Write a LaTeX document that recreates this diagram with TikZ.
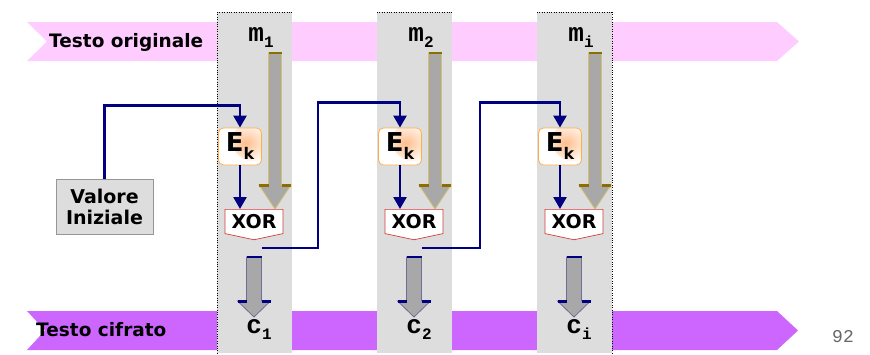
\documentclass[tikz,border=0pt]{standalone}
\usepackage{fontspec}
\setmainfont{DejaVu Sans}
\newfontfamily\monofont{Liberation Mono}
\usetikzlibrary{arrows.meta, shapes.symbols, calc}
\definecolor{bandpink}{RGB}{255,204,255}
\definecolor{bandviolet}{RGB}{204,102,255}
\definecolor{colgray}{RGB}{221,221,221}
\definecolor{mynavy}{RGB}{0,0,128}
\definecolor{mygold}{RGB}{214,190,110}
\definecolor{mydarkgold}{RGB}{140,110,0}
\definecolor{myslate}{RGB}{110,110,150}
\definecolor{arrowgray}{RGB}{168,168,168}
\definecolor{xorred}{RGB}{210,60,60}
\definecolor{ekorange}{RGB}{255,175,70}
\definecolor{ekfill}{RGB}{255,190,140}
\definecolor{valborder}{RGB}{150,150,150}
\tikzset{
  bandtext/.style={font=\fontsize{18.5}{18.5}\selectfont\bfseries, inner sep=0pt, anchor=west},
  mlabel/.style={font=\fontsize{26}{26}\monofont\bfseries, inner sep=0pt},
  ekbox/.style={rectangle, draw=ekorange, fill=white, rounded corners=5pt,
    line width=0.8pt, minimum width=43pt, minimum height=37pt, inner sep=0pt,
    font=\fontsize{26}{26}\selectfont\bfseries,
    path picture={\shade[inner color=ekfill, outer color=white]
      ([xshift=-9pt,yshift=-13pt]path picture bounding box.north east) circle (20pt);}},
  xorbox/.style={signal, signal to=south, signal pointer angle=156,
    draw=xorred, fill=white, line width=0.7pt, minimum width=58pt,
    minimum height=29pt, inner sep=0pt, font=\fontsize{19}{19}\selectfont\bfseries},
  valbox/.style={rectangle, draw=valborder, fill=colgray, line width=0.7pt,
    minimum width=97pt, minimum height=55pt, align=center, inner sep=0pt,
    font=\fontsize{19}{21}\selectfont\bfseries},
  flow/.style={draw=mynavy, line width=2.5pt, -{Triangle[width=13pt,length=12pt]}},
  pagenum/.style={font=\fontsize{18}{18}\monofont, text=black!60, inner sep=0pt}
}
% block arrow: cx, ytop, yhead, ytip, half shaft, half head, outline, bars
\newcommand{\blockarrow}[8]{%
  \filldraw[fill=arrowgray, draw=#7, line width=0.8pt]
    (#1-#5,#2) -- (#1+#5,#2) -- (#1+#5,#3) -- (#1+#6,#3) -- (#1,#4)
    -- (#1-#6,#3) -- (#1-#5,#3) -- cycle;
  \draw[#8, line width=2.5pt] (#1-#5,#2) -- (#1+#5,#2);
  \draw[#8, line width=3pt] (#1-#6,#3) -- (#1-#5,#3) (#1+#5,#3) -- (#1+#6,#3);
}
\begin{document}
\begin{tikzpicture}[x=1pt, y=-1pt]
  \useasboundingbox (0,0) rectangle (870,354);
  % bands
  \fill[bandpink] (27,22) -- (777,22) -- (799,41.5) -- (777,61) -- (27,61) -- (47,41.5) -- cycle;
  \fill[bandviolet] (27,311) -- (777,311) -- (798,330.5) -- (777,350) -- (27,350) -- (45,330.5) -- cycle;
  \node[bandtext] (orig) at (49,42) {Testo originale};
  \node[bandtext] (cifr) at (36,330) {Testo cifrato};
  % columns
  \foreach \i/\cx/\sub in {1/217/1, 2/377/2, 3/537/i} {
    \fill[colgray] (\cx,12) rectangle (\cx+75,353);
    \draw[dotted] (\cx,12) -- (\cx+75,12);
    \node[mlabel] (m\i) at (\cx+44,38) {m\raisebox{-6pt}{\fontsize{16}{16}\selectfont\sub}};
    \blockarrow{\cx+58}{53}{185}{209}{6.5}{16}{mygold}{mydarkgold}
    \node[ekbox] (ek\i) at (\cx+23,146.5) {E\raisebox{-8pt}{\fontsize{16}{16}\selectfont k}};
    \node[xorbox, anchor=north] (xor\i) at (\cx+37,209) {XOR};
    \draw[flow] (ek\i.south) -- (ek\i.south |- xor\i.north);
    \coordinate (fb\i) at ([xshift=8pt,yshift=-8pt]xor\i.south);
    \blockarrow{\cx+37}{257}{301}{317}{7.5}{16.5}{myslate}{mynavy}
    \node[mlabel] (c\i) at (\cx+42,329) {c\raisebox{-6pt}{\fontsize{16}{16}\selectfont\sub}};
  }
  \draw[dotted] (217,12) -- (217,353);
  \draw[dotted] (612,12) -- (612,353);
  % initial value and chaining
  \node[valbox] (val) at (104.5,206.5) {Valore\\Iniziale};
  \draw[flow] (val.north) |- ([yshift=22pt]ek1.north) -- (ek1.north);
  \draw[flow] (fb1) -- ++(56,0) |- ([yshift=25pt]ek2.north) -- (ek2.north);
  \draw[flow] (fb2) -- ++(58,0) |- ([yshift=25pt]ek3.north) -- (ek3.north);
  \node[pagenum] (num) at (843,337) {92};
\end{tikzpicture}
\end{document}
